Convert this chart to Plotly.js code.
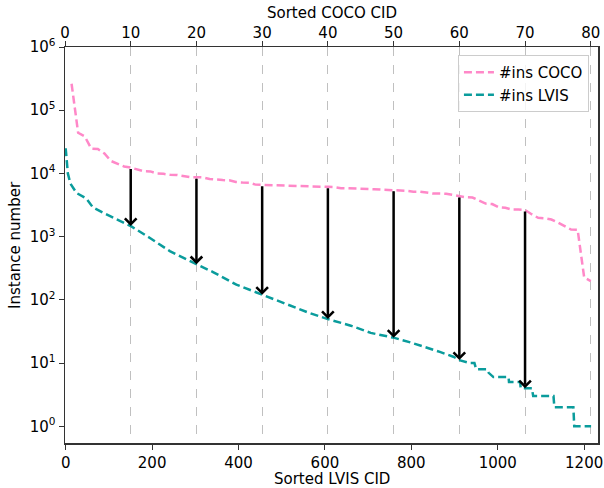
<!DOCTYPE html>
<html>
<head>
<meta charset="utf-8">
<script src="https://cdn.plot.ly/plotly-3.0.1.min.js"></script>
<style>html,body{margin:0;padding:0;background:#fff;}#chart{width:604px;height:488px;}</style>
</head>
<body>
<div id="chart"></div>
<script>
// COCO: sorted category index (top axis) and instance counts
const cocoCount = [262465, 43867, 38491, 24715, 24342, 20650, 15714, 14358, 12884, 12354,
  11431, 10806, 10759, 9973, 9838, 9509, 9458, 9076, 8725, 8720,
  8652, 8147, 7913, 7852, 7770, 7308, 7179, 7113, 6646, 6613,
  6587, 6496, 6434, 6399, 6353, 6347, 6334, 6192, 6165, 6126,
  6069, 5851, 5821, 5805, 5779, 5703, 5610, 5543, 5513, 5508,
  5479, 5303, 5135, 5131, 4970, 4812, 4793, 4768, 4571, 4373,
  4192, 4157, 3747, 3334, 3276, 2918, 2855, 2685, 2682, 2637,
  2262, 1983, 1954, 1865, 1673, 1481, 1294, 1285, 225, 198];
const cocoIdx = cocoCount.map((_, i) => i + 1);

// LVIS: sorted category id (bottom axis) and instance counts
const lvisIdx = [0, 5, 11, 25, 48, 63, 86, 129, 152, 195, 241, 304, 341, 395, 455, 511, 561,
  605, 660, 706, 761, 800, 838, 866, 897, 913, 936, 946, 950, 975, 979, 990, 1025, 1026,
  1052, 1053, 1079, 1082, 1129, 1131, 1175, 1177, 1216];
const lvisCount = [25000, 10000, 6900, 4900, 4000, 2900, 2400, 1740, 1450, 950, 590, 363, 275, 174, 120, 85, 63,
  50, 39, 30, 25, 21, 17.5, 15, 12.6, 11, 10, 10, 8, 8, 7, 6, 6, 5,
  5, 4, 4, 3, 3, 2, 2, 1, 1];

// arrows at COCO ticks
const arrowCoco = [10, 20, 30, 40, 50, 60, 70];

const xTitle = 'Sorted LVIS CID';
const x2Title = 'Sorted COCO CID';
const yTitle = 'Instance number';

const xBottomRange = [-1.6, 1232];
const xTopRange = [0, 81.1];

function topToBottom(c) {
  const f = (c - xTopRange[0]) / (xTopRange[1] - xTopRange[0]);
  return xBottomRange[0] + f * (xBottomRange[1] - xBottomRange[0]);
}
function lvisAt(x) {
  for (let i = 0; i < lvisIdx.length - 1; i++) {
    if (x >= lvisIdx[i] && x <= lvisIdx[i + 1]) {
      const t = (x - lvisIdx[i]) / (lvisIdx[i + 1] - lvisIdx[i] || 1);
      return Math.log10(lvisCount[i]) * (1 - t) + Math.log10(lvisCount[i + 1]) * t;
    }
  }
  return Math.log10(lvisCount[lvisCount.length - 1]);
}

const pink = '#ff88c8';
const teal = '#0a9c9c';
const axisLine = '#333';
const font = "'DejaVu Sans', sans-serif";

// minor log tick positions (style only)
const yMinorTicks = [];
[0.1, 1, 10, 100, 1000, 10000, 100000].forEach(d => { for (let m = 2; m <= 9; m++) yMinorTicks.push(d * m); });

const traces = [
  {x: cocoIdx, y: cocoCount, xaxis: 'x2', yaxis: 'y', mode: 'lines', name: '#ins COCO',
   line: {color: pink, width: 2.5, dash: '8px,4px'}},
  {x: lvisIdx, y: lvisCount, xaxis: 'x', yaxis: 'y', mode: 'lines', name: '#ins LVIS',
   line: {color: teal, width: 2.5, dash: '8px,4px'}},
  {x: yMinorTicks.map(() => -0.0035), y: yMinorTicks, xaxis: 'x3', yaxis: 'y', mode: 'markers',
   showlegend: false, hoverinfo: 'skip', cliponaxis: false,
   marker: {symbol: 'line-ew', size: 4, line: {color: axisLine, width: 1}}}
];

const annotations = arrowCoco.map(c => ({
  x: c, xref: 'x2', y: lvisAt(topToBottom(c)), yref: 'y',
  ax: c, axref: 'x2', ay: Math.log10(cocoCount[c - 1]), ayref: 'y',
  text: '', showarrow: true, arrowhead: 4, arrowwidth: 2.5, arrowsize: 0.9, arrowcolor: '#000', standoff: 0
}));
annotations.push(
  {text: x2Title, xref: 'paper', yref: 'paper', x: 0.5, y: 1, yshift: 34, showarrow: false,
   xanchor: 'center', yanchor: 'middle', font: {size: 15}},
  {text: xTitle, xref: 'paper', yref: 'paper', x: 0.5, y: 0, yshift: -36, showarrow: false,
   xanchor: 'center', yanchor: 'middle', font: {size: 15}},
  {text: yTitle, xref: 'paper', yref: 'paper', x: 0, y: 0.5, xshift: -50, showarrow: false,
   textangle: -90, xanchor: 'center', yanchor: 'middle', font: {size: 15}}
);

const yTicks = [1, 10, 100, 1000, 10000, 100000, 1000000];
const yTickText = ['10<sup>0</sup>', '10<sup>1</sup>', '10<sup>2</sup>', '10<sup>3</sup>', '10<sup>4</sup>', '10<sup>5</sup>', '10<sup>6</sup>'];

const layout = {
  width: 604, height: 488,
  margin: {l: 65, r: 6, t: 47, b: 45},
  paper_bgcolor: '#fff', plot_bgcolor: '#fff',
  font: {family: font, size: 15, color: '#000'},
  showlegend: true,
  legend: {x: 0.983, y: 0.98, xanchor: 'right', yanchor: 'top', bgcolor: 'rgba(255,255,255,0.8)',
    bordercolor: '#cccccc', borderwidth: 1, font: {size: 15}, itemwidth: 30, tracegroupgap: 0},
  xaxis: {range: xBottomRange, tickmode: 'array', tickvals: [0, 200, 400, 600, 800, 1000, 1200], ticks: 'outside', ticklen: 5,
    tickcolor: axisLine, showgrid: false, zeroline: false, showline: true, linecolor: axisLine, linewidth: 1.5,
    tickfont: {size: 15}},
  xaxis2: {range: xTopRange, overlaying: 'x', side: 'top', anchor: 'y', dtick: 10, tick0: 0, ticks: 'outside', ticklen: 5,
    tickcolor: axisLine, showgrid: true, gridcolor: '#c0c0c0', griddash: 'dash', gridwidth: 1, zeroline: false,
    showline: true, linecolor: axisLine, linewidth: 1.5, ticklabelstandoff: -3, tickfont: {size: 15}},
  xaxis3: {range: [0, 1], overlaying: 'x', anchor: 'y', visible: false, fixedrange: true},
  yaxis: {type: 'log', range: [-0.265, 6], tickmode: 'array', tickvals: yTicks, ticktext: yTickText, ticks: 'outside', ticklen: 5,
    tickcolor: axisLine, showgrid: false, zeroline: false, showline: true, linecolor: axisLine, linewidth: 1.5,
    mirror: true, tickfont: {size: 15}},
  annotations: annotations
};

Plotly.newPlot('chart', traces, layout, {staticPlot: true, displayModeBar: false});
</script>
</body>
</html>
